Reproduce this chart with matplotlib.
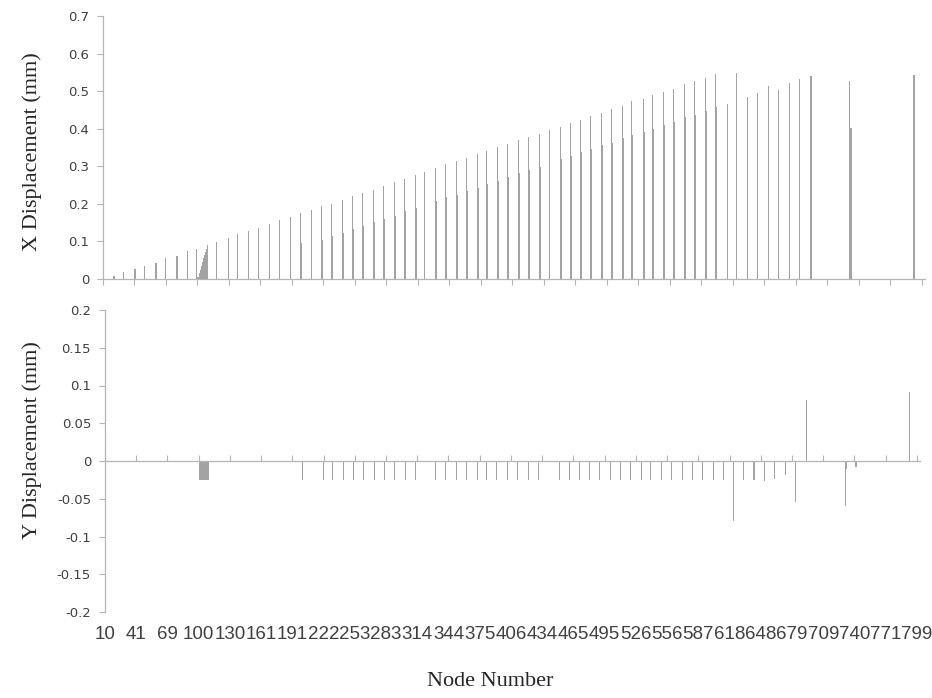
import matplotlib.pyplot as plt
from matplotlib.ticker import FuncFormatter

# node numbers printed under every 30th category of the axis
node_labels = ['10', '41', '69', '100', '130', '161', '191', '222', '253', '283',
               '314', '344', '375', '406', '434', '465', '495', '526', '556', '587',
               '618', '648', '679', '709', '740', '771', '799']
n_categories = 783
label_step = 30

# X displacement (mm) at category index
x_idx = [10, 19, 30, 39, 50, 59, 70, 80, 89,
         90, 91, 92, 93, 94, 95, 96, 97, 98, 99,
         108, 119, 128, 138, 148, 158, 168, 178,
         188, 189, 198, 208, 209, 217, 218, 228, 229,
         237, 238, 247, 248, 257, 258, 267, 268,
         277, 278, 287, 288, 297, 298, 306,
         316, 317, 326, 327, 336, 337, 346, 347,
         356, 357, 365, 366, 375, 376, 385, 386,
         395, 396, 405, 406, 415, 416, 425,
         435, 436, 445, 446, 454, 455, 464, 465,
         474, 475, 484, 485, 494, 495, 503, 504,
         514, 515, 523, 524, 533, 534, 543, 544,
         553, 554, 563, 564, 573, 574, 583, 584,
         594, 603, 613, 623, 633, 643, 653, 663,
         673, 674, 711, 712, 772]
x_val = [0.008, 0.018, 0.026, 0.035, 0.043, 0.055, 0.062, 0.074, 0.081,
         0.006, 0.015, 0.024, 0.034, 0.045, 0.055, 0.064, 0.071, 0.080, 0.090,
         0.099, 0.109, 0.120, 0.129, 0.137, 0.146, 0.157, 0.164,
         0.175, 0.096, 0.183, 0.195, 0.104, 0.200, 0.115, 0.211, 0.122,
         0.220, 0.133, 0.230, 0.141, 0.238, 0.152, 0.247, 0.160,
         0.259, 0.169, 0.266, 0.180, 0.277, 0.188, 0.285,
         0.295, 0.207, 0.307, 0.217, 0.314, 0.224, 0.322, 0.235,
         0.332, 0.243, 0.340, 0.254, 0.351, 0.262, 0.359, 0.272,
         0.369, 0.281, 0.379, 0.291, 0.387, 0.299, 0.397,
         0.405, 0.319, 0.416, 0.327, 0.424, 0.337, 0.433, 0.346,
         0.441, 0.356, 0.453, 0.363, 0.460, 0.374, 0.474, 0.382,
         0.479, 0.392, 0.489, 0.400, 0.497, 0.410, 0.507, 0.418,
         0.519, 0.430, 0.527, 0.436, 0.535, 0.448, 0.545, 0.458,
         0.466, 0.547, 0.484, 0.495, 0.513, 0.503, 0.521, 0.531,
         0.539, 0.539, 0.528, 0.401, 0.542]

# Y displacement (mm) at category index
y_idx = [90, 91, 92, 93, 94, 95, 96, 97, 98, 99,
         189, 209, 218, 229, 238, 248, 258, 268, 278, 288, 298,
         317, 327, 337, 347, 357, 366, 376, 386, 396, 406, 416,
         436, 446, 455, 465, 475, 485, 495, 504, 515, 524, 534, 544,
         554, 564, 574, 584, 594,
         603, 613, 623, 633, 643, 653, 663, 673, 711, 712, 721, 772]
y_val = [-0.025] * 10 + \
        [-0.025] * 11 + \
        [-0.025] * 11 + \
        [-0.025] * 17 + \
        [-0.080, -0.025, -0.025, -0.027, -0.024, -0.018, -0.054, 0.081,
         -0.060, -0.011, -0.008, 0.091]

x_ticks = [0, 0.1, 0.2, 0.3, 0.4, 0.5, 0.6, 0.7]
y_ticks = [-0.2, -0.15, -0.1, -0.05, 0, 0.05, 0.1, 0.15, 0.2]

bar_color = '#a3a3a3'
axis_color = '#b5b5b5'
text_color = '#404040'
W, H = 932, 698

fig = plt.figure(figsize=(W / 100, H / 100), dpi=100)
ax1 = fig.add_axes([103 / W, 1 - 279 / H, 822 / W, 263 / H])
ax2 = fig.add_axes([105 / W, 1 - 612 / H, 815 / W, 302 / H])

cat_ticks = [k * label_step - 0.5 for k in range(len(node_labels))]
fmt = FuncFormatter(lambda v, p: '%g' % round(v, 3))

ax1.bar(x_idx, x_val, width=1.0, color=bar_color, linewidth=0)
ax2.bar(y_idx, y_val, width=1.0, color=bar_color, linewidth=0)

for ax in (ax1, ax2):
    ax.set_xlim(-0.5, n_categories - 0.5)
    for s in ('top', 'right'):
        ax.spines[s].set_visible(False)
    for s in ('left', 'bottom'):
        ax.spines[s].set_color(axis_color)
        ax.spines[s].set_linewidth(0.9)
    ax.set_xticks(cat_ticks)
    ax.set_xticklabels([])
    ax.yaxis.set_major_formatter(fmt)
    ax.tick_params(axis='y', length=4, width=0.8, color=axis_color, pad=6,
                   labelsize=9.5, labelcolor=text_color)
    ax.tick_params(axis='x', length=4, width=0.8, color=axis_color)

ax1.set_ylim(0, 0.7)
ax1.set_yticks(x_ticks)
ax1.tick_params(axis='x', direction='out')

ax2.set_ylim(-0.2, 0.2)
ax2.set_yticks(y_ticks)
ax2.spines['bottom'].set_position(('data', 0))
ax2.tick_params(axis='x', direction='in')

# node labels sit below the lower panel, not on its zero line
sec = ax2.secondary_xaxis('bottom')
sec.set_xticks(cat_ticks)
sec.set_xticklabels(node_labels, family='Liberation Sans', fontsize=13.5, color=text_color)
sec.tick_params(length=0, pad=10)
sec.spines['bottom'].set_visible(False)

title_font = dict(family='Liberation Serif', fontsize=16, color='#262626')
fig.text(32 / W, 1 - 152 / H, 'X Displacement (mm)', rotation=90,
         ha='center', va='center', **title_font)
fig.text(32 / W, 1 - 440 / H, 'Y Displacement (mm)', rotation=90,
         ha='center', va='center', **title_font)
fig.text(490 / W, 1 - 681 / H, 'Node Number', ha='center', va='center', **title_font)

fig.savefig('out.png', dpi=100)
